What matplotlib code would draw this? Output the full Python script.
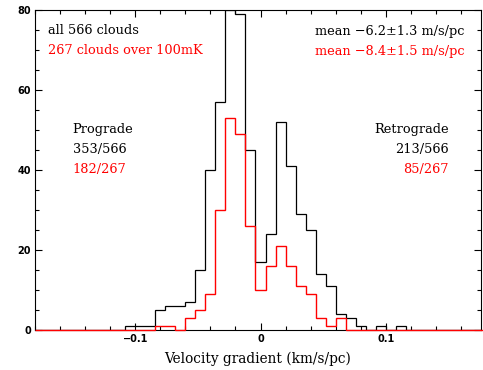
import numpy as np
import matplotlib.pyplot as plt

# histogram counts, bin width 0.008 km/s/pc
bin_width = 0.008
black_start = -0.108
black_counts = [1, 1, 1, 5, 6, 6, 7, 15, 40, 57, 80, 79, 45, 17,
                24, 52, 41, 29, 25, 14, 11, 4, 3, 1, 0, 1, 0, 1]
red_start = -0.084
red_counts = [1, 1, 0, 3, 5, 9, 30, 53, 49, 26,
              10, 16, 21, 16, 11, 9, 3, 1, 3]

xmin, xmax = -0.18, 0.176

def full_hist(start, counts):
    # pad with empty bins so the line runs along the whole axis
    nleft = int(round((start - (-0.18)) / bin_width))
    vals = np.concatenate([np.zeros(nleft), counts])
    nright = 45 - len(vals)
    vals = np.concatenate([vals, np.zeros(nright)])
    edges = -0.18 + bin_width * np.arange(46)
    return vals, edges

fig = plt.figure(figsize=(4.83, 3.70), dpi=100)
ax = fig.add_axes([35/483, 40/370, 446/483, 320/370])

v, e = full_hist(black_start, black_counts)
ax.stairs(v, e, color='black', lw=0.9, zorder=3)
v, e = full_hist(red_start, red_counts)
ax.stairs(v, e, color='red', lw=1.0, zorder=4, clip_on=False)

ax.set_xlim(xmin, xmax)
ax.set_ylim(0, 80)
ax.set_xticks([-0.1, 0, 0.1])
ax.set_xticklabels(['\u22120.1', '0', '0.1'])
ax.set_xticks(np.arange(-0.18, 0.18, 0.02), minor=True)
ax.set_yticks([0, 20, 40, 60, 80])
ax.set_yticks(np.arange(0, 81, 5), minor=True)
ax.tick_params(which='both', direction='in', top=True, right=True, width=0.8)
ax.tick_params(which='major', length=5, labelsize=7, pad=3)
ax.tick_params(which='minor', length=3)
for lab in ax.get_xticklabels() + ax.get_yticklabels():
    lab.set_fontweight('bold')
for s in ax.spines.values():
    s.set_linewidth(0.8)

ax.set_xlabel('Velocity gradient (km/s/pc)', family='DejaVu Serif',
              fontsize=9.8, labelpad=5)

tf = dict(family='DejaVu Serif', fontsize=9.3, va='center')
ax.text(-0.170, 74.75, 'all 566 clouds', color='black', ha='left', **tf)
ax.text(-0.170, 69.75, '267 clouds over 100mK', color='red', ha='left', **tf)
ax.text(0.1626, 74.75, 'mean \u22126.2\u00b11.3 m/s/pc', color='black', ha='right', **tf)
ax.text(0.1626, 69.75, 'mean \u22128.4\u00b11.5 m/s/pc', color='red', ha='right', **tf)
ax.text(-0.150, 50, 'Prograde', color='black', ha='left', **tf)
ax.text(-0.150, 45, '353/566', color='black', ha='left', **tf)
ax.text(-0.150, 40, '182/267', color='red', ha='left', **tf)
ax.text(0.1501, 50, 'Retrograde', color='black', ha='right', **tf)
ax.text(0.1501, 45, '213/566', color='black', ha='right', **tf)
ax.text(0.1501, 40, '85/267', color='red', ha='right', **tf)

fig.savefig('out.png', dpi=100)
